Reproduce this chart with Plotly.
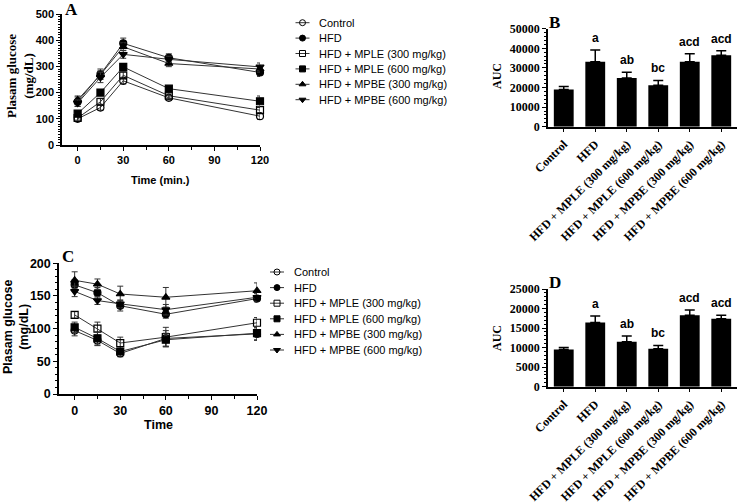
import plotly.graph_objects as go

# ---------------- data ----------------
time_min = [0, 15, 30, 60, 120]
groups = ["Control", "HFD", "HFD + MPLE (300 mg/kg)", "HFD + MPLE (600 mg/kg)",
          "HFD + MPBE (300 mg/kg)", "HFD + MPBE (600 mg/kg)"]
symbols = ["circle-open", "circle", "square-open", "square", "triangle-up", "triangle-down"]

# Panel A (OGTT)
a_control = [100, 143, 245, 180, 110]
a_hfd = [165, 270, 388, 333, 277]
a_mple300 = [103, 165, 266, 188, 133]
a_mple600 = [120, 200, 298, 215, 167]
a_mpbe300 = [172, 268, 375, 311, 290]
a_mpbe600 = [160, 258, 346, 327, 298]
a_err_control = [8, 10, 12, 8, 12]
a_err_hfd = [18, 20, 20, 15, 15]
a_err_mple300 = [8, 12, 12, 10, 10]
a_err_mple600 = [8, 10, 12, 10, 20]
a_err_mpbe300 = [15, 15, 15, 12, 12]
a_err_mpbe600 = [12, 20, 15, 12, 15]

# Panel C (ITT)
c_control = [97, 82, 62, 85, 92]
c_hfd = [167, 155, 135, 122, 146]
c_mple300 = [121, 100, 78, 87, 109]
c_mple600 = [102, 85, 65, 83, 93]
c_mpbe300 = [174, 168, 153, 148, 158]
c_mpbe600 = [157, 143, 138, 129, 148]
c_err_control = [8, 8, 5, 12, 10]
c_err_hfd = [8, 8, 8, 6, 5]
c_err_mple300 = [5, 10, 9, 15, 8]
c_err_mple600 = [8, 10, 5, 10, 10]
c_err_mpbe300 = [13, 8, 12, 15, 12]
c_err_mpbe600 = [8, 6, 6, 8, 6]

# Panel B (AUC of A)
b_auc = [19000, 33200, 24800, 21100, 33200, 36400]
b_err = [1500, 5900, 3000, 2500, 4000, 2400]
b_letters = ["", "a", "ab", "bc", "acd", "acd"]

# Panel D (AUC of C)
d_auc = [9500, 16400, 11500, 9700, 18300, 17400]
d_err = [550, 1700, 1500, 850, 1350, 900]
d_letters = ["", "a", "ab", "bc", "acd", "acd"]

a_means = [a_control, a_hfd, a_mple300, a_mple600, a_mpbe300, a_mpbe600]
a_errs = [a_err_control, a_err_hfd, a_err_mple300, a_err_mple600, a_err_mpbe300, a_err_mpbe600]
c_means = [c_control, c_hfd, c_mple300, c_mple600, c_mpbe300, c_mpbe600]
c_errs = [c_err_control, c_err_hfd, c_err_mple300, c_err_mple600, c_err_mpbe300, c_err_mpbe600]

W, H = 738, 504
SANS = "Liberation Sans, Arial, sans-serif"
SERIF = "Liberation Serif, Times New Roman, serif"

fig = go.Figure()

def px_x(p):
    return p / W

def px_y(p):
    return 1 - p / H

# ---------- line panels ----------
for means, errs, xa, ya in [(a_means, a_errs, "x", "y"), (c_means, c_errs, "x2", "y2")]:
    for i in range(6):
        fig.add_trace(go.Scatter(
            x=time_min, y=means[i], xaxis=xa, yaxis=ya, mode="lines+markers",
            line=dict(color="#333333", width=1),
            marker=dict(symbol=symbols[i], size=7, color="black",
                        line=dict(color="black", width=1.2)),
            error_y=dict(type="data", array=errs[i], color="#333333", thickness=1, width=3),
            cliponaxis=False, showlegend=False, name=groups[i]))

# ---------- bar panels ----------
for vals, errs, xa, ya in [(b_auc, b_err, "x3", "y3"), (d_auc, d_err, "x4", "y4")]:
    fig.add_trace(go.Bar(
        x=groups, y=vals, xaxis=xa, yaxis=ya, marker=dict(color="black", line=dict(width=0)),
        error_y=dict(type="data", array=errs, arrayminus=[0] * len(errs), symmetric=False,
                     color="black", thickness=1.5, width=5),
        showlegend=False))

annotations = []
for vals, errs, letters, xa, ya in [(b_auc, b_err, b_letters, "x3", "y3"),
                                     (d_auc, d_err, d_letters, "x4", "y4")]:
    for g, v, e, t in zip(groups, vals, errs, letters):
        if t:
            annotations.append(dict(x=g, y=v + e, xref=xa, yref=ya, text=t, showarrow=False,
                                    yanchor="bottom", yshift=3,
                                    font=dict(family=SANS, size=12, color="black", weight="bold")))

# ---------- custom legends (overlay axis in pixel units) ----------
fig.update_layout(xaxis5=dict(domain=[0, 1], range=[0, W], visible=False, fixedrange=True,
                              anchor="y5", automargin=False),
                  yaxis5=dict(domain=[0, 1], range=[H, 0], visible=False, fixedrange=True,
                              anchor="x5", automargin=False))
for cx, top, step, tx in [(302.5, 22.7, 15.4, 317), (277, 272, 15.6, 292)]:
    for i in range(6):
        yy = top + i * step
        fig.add_trace(go.Scatter(x=[cx - 7, cx + 7], y=[yy, yy], xaxis="x5", yaxis="y5",
                                 mode="lines", line=dict(color="#333333", width=1),
                                 showlegend=False, hoverinfo="skip"))
        fig.add_trace(go.Scatter(x=[cx], y=[yy], xaxis="x5", yaxis="y5", mode="markers",
                                 marker=dict(symbol=symbols[i], size=6, color="black",
                                             line=dict(color="black", width=1)),
                                 showlegend=False, hoverinfo="skip"))
        annotations.append(dict(x=tx, y=yy, xref="x5", yref="y5", text=groups[i],
                                showarrow=False, xanchor="left", yanchor="middle",
                                font=dict(family=SANS, size=11, color="black")))

# ---------- axis titles & panel letters ----------
def ann(x, y, text, family, size, bold=True, angle=0, xanchor="center", yanchor="middle"):
    annotations.append(dict(x=px_x(x), y=px_y(y), xref="paper", yref="paper", text=text,
                            showarrow=False, textangle=angle, xanchor=xanchor, yanchor=yanchor,
                            font=dict(family=family, size=size, color="black",
                                      weight="bold" if bold else "normal")))

ann(71, 9, "A", SERIF, 17)
ann(554, 23, "B", SERIF, 17)
ann(67.5, 256, "C", SERIF, 17)
ann(555, 282, "D", SERIF, 17)

ann(20, 76, "Plasam glucose<br>(mg/dL)", SERIF, 13, angle=-90)
ann(16, 327, "Plasam glucose<br>(mg/dL)", SANS, 12.5, angle=-90)
ann(160, 180, "Time (min.)", SANS, 11)
ann(158, 425, "Time", SANS, 12.5)
ann(497, 76, "AUC", SERIF, 12, angle=-90)
ann(497, 338, "AUC", SERIF, 12, angle=-90)

# ---------- axes ----------
def common():
    return dict(showline=True, linecolor="black", linewidth=1.5, ticks="outside", ticklen=4,
                tickwidth=1.2, tickcolor="black", showgrid=False, zeroline=False,
                fixedrange=True, automargin=False)

def time_axis(dom, fs, anchor):
    d = common()
    d.update(domain=dom, range=[-10.3, 120], tickvals=[0, 30, 60, 90, 120], anchor=anchor,
             minor=dict(dtick=15, tick0=0, ticks="outside", ticklen=3, tickcolor="black"),
             tickfont=dict(family=SANS, size=fs, color="black", weight="bold"))
    return d

def val_axis(dom, rng, dt, mdt, family, fs, anchor):
    d = common()
    d.update(domain=dom, range=rng, dtick=dt, anchor=anchor, tickformat="d",
             minor=dict(dtick=mdt, ticks="outside", ticklen=2, tickcolor="black"),
             tickfont=dict(family=family, size=fs, color="black", weight="bold"))
    return d

def cat_axis(dom, anchor):
    d = common()
    d.update(domain=dom, range=[-0.5, 5.5], tickangle=-45, anchor=anchor,
             tickfont=dict(family=SERIF, size=12, color="black", weight="bold"))
    return d

fig.update_layout(
    xaxis=time_axis([px_x(62), px_x(260)], 11, "y"),
    yaxis=val_axis([px_y(145), px_y(14)], [0, 500], 100, 10, SANS, 11, "x"),
    xaxis2=time_axis([px_x(59), px_x(257)], 12.5, "y2"),
    yaxis2=val_axis([px_y(394), px_y(263.3)], [0, 200], 50, 10, SANS, 12.5, "x2"),
    xaxis3=cat_axis([px_x(548), px_x(737)], "y3"),
    yaxis3=val_axis([px_y(126.7), px_y(28.7)], [0, 50000], 10000, 2000, SERIF, 12, "x3"),
    xaxis4=cat_axis([px_x(548), px_x(737)], "y4"),
    yaxis4=val_axis([px_y(386.7), px_y(289)], [0, 25000], 5000, 1000, SERIF, 12, "x4"),
)

fig.update_layout(width=W, height=H, margin=dict(l=0, r=0, t=0, b=0, autoexpand=False),
                  paper_bgcolor="white", plot_bgcolor="rgba(0,0,0,0)", bargap=0.37,
                  annotations=annotations, showlegend=False)

fig.write_html("out.html", config={"displayModeBar": False},
               post_script="document.body.style.margin='0';")
